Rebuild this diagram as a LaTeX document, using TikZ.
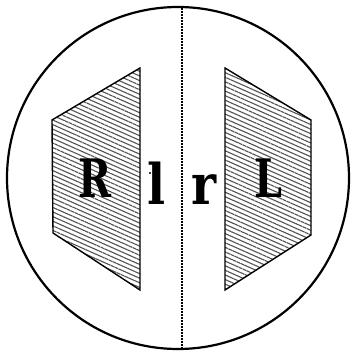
\documentclass[tikz,border=0pt]{standalone}
\usepackage{fontspec}
\newfontfamily\letterfont{DejaVu Serif}
\usetikzlibrary{patterns.meta}
\tikzset{
  prism/.style={draw, line width=1.4pt, line join=miter,
    pattern={Lines[angle=-24, distance=4.2pt, line width=1.1pt]}, pattern color=black!68},
  biglabel/.style={anchor=base, inner sep=0pt, font=\letterfont\fontsize{53}{53}\selectfont\bfseries, xscale=0.75},
  smalllabel/.style={anchor=base, inner sep=0pt, font=\letterfont\fontsize{56}{56}\selectfont\bfseries, xscale=0.85}
}
\begin{document}
\begin{tikzpicture}[x=1pt, y=1pt]
  \useasboundingbox (0,0) rectangle (352,354);
  % field of view
  \draw[line width=2.2pt] (178,176) circle (171);
  \coordinate (top) at (182,5);
  \coordinate (bot) at (182,348);
  \draw[line width=1.6pt, dash pattern=on 1.8pt off 1.2pt] (top) -- (bot);
  % the two images
  \draw[prism] (52,234) -- (140,286) -- (140,64) -- (53,121) -- cycle;
  \draw[prism] (225,286) -- (311,234) -- (311,119) -- (225,64) -- cycle;
  % letters
  \node[biglabel] (R) at (95,156) {R};
  \node[biglabel] (L) at (268,156) {L};
  \node[smalllabel] (l) at (157,149) {l};
  \node[smalllabel] (r) at (204,149) {r};
  % specks
  \fill (150,181) circle (1.2);
  \fill (213,176) circle (1.8);
\end{tikzpicture}
\end{document}
